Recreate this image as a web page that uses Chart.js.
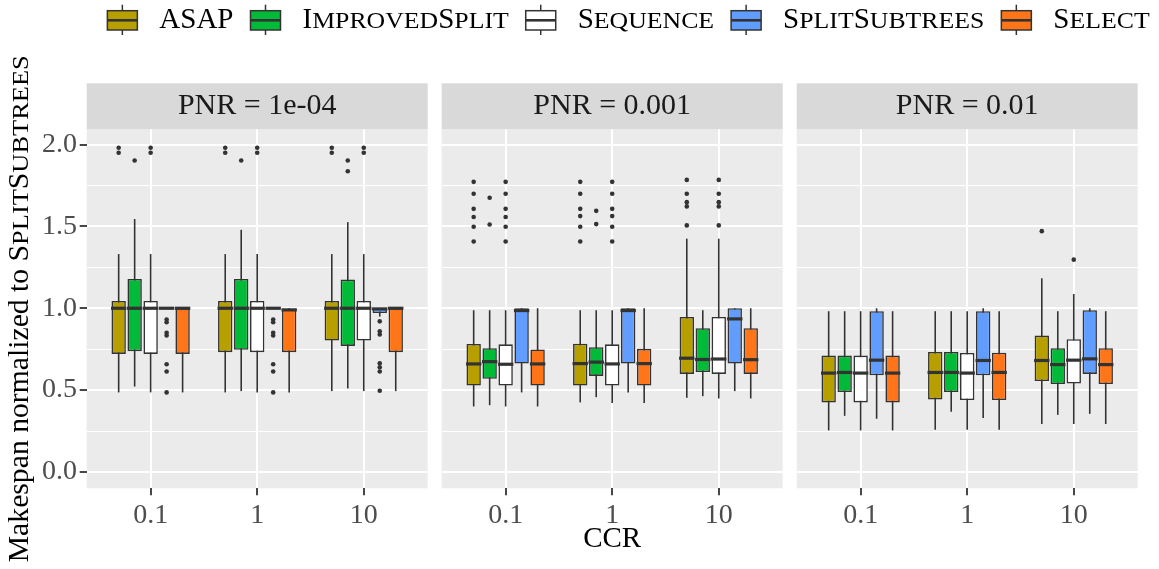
<!DOCTYPE html>
<html>
<head>
<meta charset="utf-8">
<script src="https://cdn.jsdelivr.net/npm/chart.js@4.4.1/dist/chart.umd.min.js"></script>
<style>
  html, body { margin: 0; padding: 0; background: #fff; }
  #wrap { position: relative; width: 1159px; height: 569px; }
  #wrap canvas { position: absolute; left: 0; top: 0; }
</style>
</head>
<body>
<div id="wrap">
  <canvas id="pnr0" width="1159" height="569"></canvas>
  <canvas id="pnr1" width="1159" height="569"></canvas>
  <canvas id="pnr2" width="1159" height="569"></canvas>
</div>
<script>
const ccrLabels = ["0.1", "1", "10"];
const pnrLabels = ["1e-04", "0.001", "0.01"];
const algorithms = ["ASAP", "ImprovedSplit", "Sequence", "SplitSubtrees", "Select"];
const fills = ["#B79F00", "#00BA38", "#FFFFFF", "#619CFF", "#FF7518"];

// box stats per PNR panel, per CCR: [lower whisker, q1, median, q3, upper whisker]
const asapBoxes = [
    [[0.486, 0.721, 1.0, 1.045, 1.331], [0.486, 0.732, 1.0, 1.045, 1.331], [0.494, 0.803, 1.0, 1.045, 1.331]],
    [[0.400, 0.528, 0.660, 0.782, 0.988], [0.425, 0.528, 0.662, 0.784, 0.988], [0.453, 0.599, 0.695, 0.947, 1.425]],
    [[0.254, 0.425, 0.604, 0.711, 0.982], [0.258, 0.443, 0.608, 0.733, 0.982], [0.293, 0.555, 0.681, 0.833, 1.183]]
];
const improvedBoxes = [
    [[0.522, 0.738, 1.0, 1.179, 1.545], [0.494, 0.746, 1.0, 1.179, 1.479], [0.510, 0.770, 1.0, 1.175, 1.526]],
    [[0.408, 0.569, 0.674, 0.756, 0.988], [0.457, 0.587, 0.671, 0.762, 0.988], [0.463, 0.610, 0.687, 0.878, 0.988]],
    [[0.343, 0.488, 0.608, 0.711, 0.982], [0.368, 0.488, 0.608, 0.733, 0.982], [0.349, 0.537, 0.656, 0.756, 0.982]]
];
const sequenceBoxes = [
    [[0.486, 0.721, 1.0, 1.045, 1.331], [0.486, 0.732, 1.0, 1.045, 1.331], [0.494, 0.803, 1.0, 1.045, 1.331]],
    [[0.400, 0.528, 0.658, 0.780, 0.988], [0.421, 0.528, 0.660, 0.780, 0.988], [0.449, 0.599, 0.690, 0.947, 1.425]],
    [[0.254, 0.425, 0.604, 0.711, 0.982], [0.258, 0.439, 0.604, 0.727, 0.982], [0.293, 0.540, 0.683, 0.811, 1.087]]
];
const splitSubtreesBoxes = [
    [[1.0, 1.0, 1.0, 1.0, 1.0], [1.0, 1.0, 1.0, 1.0, 1.0], [0.949, 0.971, 0.996, 1.0, 1.0]],
    [[0.486, 0.662, 0.986, 1.0, 1.0], [0.486, 0.662, 0.986, 1.0, 1.0], [0.494, 0.662, 0.935, 1.0, 1.0]],
    [[0.325, 0.591, 0.683, 0.982, 1.0], [0.329, 0.591, 0.681, 0.982, 1.0], [0.355, 0.599, 0.691, 0.988, 1.0]]
];
const selectBoxes = [
    [[0.486, 0.721, 1.0, 1.0, 1.0], [0.486, 0.732, 0.990, 0.997, 1.0], [0.494, 0.732, 1.0, 1.0, 1.0]],
    [[0.400, 0.528, 0.660, 0.748, 1.0], [0.421, 0.528, 0.662, 0.752, 1.0], [0.449, 0.599, 0.686, 0.878, 1.0]],
    [[0.254, 0.425, 0.604, 0.711, 0.982], [0.258, 0.439, 0.608, 0.729, 0.982], [0.293, 0.537, 0.656, 0.756, 0.982]]
];

// outliers per PNR panel, per CCR
const asapOutliers = [
    [[1.98, 1.95], [1.98, 1.95], [1.98, 1.95]],
    [[1.772, 1.699, 1.607, 1.557, 1.498, 1.408], [1.772, 1.699, 1.607, 1.563, 1.498, 1.408], [1.784, 1.699, 1.648, 1.622, 1.506]],
    [[], [], [1.471]]
];
const improvedOutliers = [
    [[1.902], [1.902], [1.902, 1.837]],
    [[1.675, 1.512], [1.595, 1.514], []],
    [[], [], []]
];
const sequenceOutliers = [
    [[1.98, 1.95], [1.98, 1.95], [1.98, 1.95]],
    [[1.772, 1.699, 1.607, 1.557, 1.498, 1.408], [1.772, 1.699, 1.607, 1.563, 1.498, 1.408], [1.784, 1.699, 1.648, 1.622, 1.506]],
    [[], [], [1.297]]
];
const splitSubtreesOutliers = [
    [[0.931, 0.915, 0.850, 0.834, 0.658, 0.614, 0.486], [0.931, 0.915, 0.850, 0.834, 0.658, 0.614, 0.486], [0.920, 0.860, 0.840, 0.664, 0.640, 0.614, 0.496]],
    [[], [], []],
    [[], [], []]
];
const selectOutliers = [
    [[], [], []],
    [[], [], []],
    [[], [], []]
];

const boxes = [asapBoxes, improvedBoxes, sequenceBoxes, splitSubtreesBoxes, selectBoxes];
const outliers = [asapOutliers, improvedOutliers, sequenceOutliers, splitSubtreesOutliers, selectOutliers];

const SERIF = '"Liberation Serif", "Times New Roman", serif';
const W = 1159, H = 569;
const panelLeft = [86.7, 441.7, 796.7];
const panelWidth = 341;
const panelTop = 129.3, panelBottom = 488.3, stripTop = 83.3;

// small caps: lowercase letters drawn as shrunk, slightly widened capitals
function smallCaps(ctx, text, x, y, size, draw) {
    let cx = x;
    for (const ch of text) {
        const up = ch.toUpperCase();
        if (ch !== up) {
            ctx.font = `${size * 0.78}px ${SERIF}`;
            const w = ctx.measureText(up).width * 1.14;
            if (draw) {
                ctx.save();
                ctx.translate(cx, y);
                ctx.scale(1.14, 1);
                ctx.fillText(up, 0, 0);
                ctx.restore();
            }
            cx += w;
        } else {
            ctx.font = `${size}px ${SERIF}`;
            if (draw) ctx.fillText(ch, cx, y);
            cx += ctx.measureText(ch).width;
        }
    }
    return cx - x;
}

const boxPlot = {
    id: "boxPlot",
    beforeDraw(chart) {
        const {ctx, chartArea} = chart;
        ctx.save();
        ctx.fillStyle = "#EBEBEB";
        ctx.fillRect(chartArea.left, chartArea.top, chartArea.width, chartArea.height);
        ctx.fillStyle = "#D9D9D9";
        ctx.fillRect(chartArea.left, stripTop, chartArea.width, chartArea.top - stripTop);
        ctx.fillStyle = "#1A1A1A";
        ctx.font = `30px ${SERIF}`;
        ctx.textAlign = "center";
        ctx.textBaseline = "alphabetic";
        ctx.fillText("PNR = " + chart.options.plugins.boxPlot.pnr, (chartArea.left + chartArea.right) / 2, 114);
        ctx.restore();
    },
    beforeDatasetsDraw(chart) {
        const {ctx} = chart;
        const y = chart.scales.y;
        ctx.save();
        ctx.strokeStyle = "#333333";
        ctx.lineWidth = 1.6;
        chart.data.datasets.forEach((ds, d) => {
            if (!ds.stats) return;
            chart.getDatasetMeta(d).data.forEach((bar, i) => {
                const s = ds.stats[i];
                ctx.beginPath();
                ctx.moveTo(bar.x, y.getPixelForValue(s[0]));
                ctx.lineTo(bar.x, y.getPixelForValue(s[4]));
                ctx.stroke();
            });
        });
        ctx.restore();
    },
    afterDatasetsDraw(chart) {
        const {ctx} = chart;
        const y = chart.scales.y;
        ctx.save();
        ctx.strokeStyle = "#333333";
        ctx.lineWidth = 3.2;
        chart.data.datasets.forEach((ds, d) => {
            if (!ds.stats) return;
            chart.getDatasetMeta(d).data.forEach((bar, i) => {
                const m = y.getPixelForValue(ds.stats[i][2]);
                ctx.beginPath();
                ctx.moveTo(bar.x - bar.width / 2 - 0.5, m);
                ctx.lineTo(bar.x + bar.width / 2 + 0.5, m);
                ctx.stroke();
            });
        });
        ctx.restore();
    }
};

// legend and y axis title, drawn once on the first panel's canvas
const frame = {
    id: "frame",
    afterDraw(chart) {
        const {ctx} = chart;
        ctx.save();
        ctx.textAlign = "left";
        ctx.textBaseline = "alphabetic";
        ctx.fillStyle = "#000";

        const size = 29, key = 30, gap = 22, after = 17;
        const widths = algorithms.map(a => smallCaps(ctx, a, 0, 0, size, false));
        const total = widths.reduce((s, w) => s + key + gap + w, 0) + after * (algorithms.length - 1);
        let x = 628.5 - total / 2;
        algorithms.forEach((a, i) => {
            ctx.strokeStyle = "#333333";
            ctx.lineWidth = 1.5;
            ctx.beginPath();
            ctx.moveTo(x + key / 2, 4.7);
            ctx.lineTo(x + key / 2, 35);
            ctx.stroke();
            ctx.fillStyle = fills[i];
            ctx.fillRect(x, 10.7, key, 19.3);
            ctx.strokeRect(x, 10.7, key, 19.3);
            ctx.lineWidth = 2.6;
            ctx.beginPath();
            ctx.moveTo(x, 20.3);
            ctx.lineTo(x + key, 20.3);
            ctx.stroke();
            ctx.fillStyle = "#000";
            smallCaps(ctx, a, x + key + gap, 27.5, size, true);
            x += key + gap + widths[i] + after;
        });

        const ts = 29.7;
        ctx.translate(28, (panelTop + panelBottom) / 2);
        ctx.rotate(-Math.PI / 2);
        ctx.font = `${ts}px ${SERIF}`;
        const lead = "Makespan normalized to ";
        const lw = ctx.measureText(lead).width;
        const tw = lw + smallCaps(ctx, "SplitSubtrees", 0, 0, ts, false);
        ctx.font = `${ts}px ${SERIF}`;
        ctx.fillText(lead, -tw / 2, 0);
        smallCaps(ctx, "SplitSubtrees", -tw / 2 + lw, 0, ts, true);
        ctx.restore();
    }
};

function isMajor(v) {
    return Math.abs(v * 2 - Math.round(v * 2)) < 1e-6;
}

function makeChart(p) {
    const datasets = [];
    algorithms.forEach((name, a) => {
        datasets.push({
            type: "bar",
            label: name,
            data: ccrLabels.map((c, i) => ({x: i + 1, y: [boxes[a][p][i][1], boxes[a][p][i][3]]})),
            stats: boxes[a][p],
            backgroundColor: fills[a],
            borderColor: "#333333",
            borderWidth: 1.6,
            borderSkipped: false,
            categoryPercentage: 0.75,
            barPercentage: 0.9
        });
    });
    algorithms.forEach((name, a) => {
        const pts = [];
        outliers[a][p].forEach((vals, i) => {
            for (const v of vals) pts.push({x: i + 1 + (a - 2) * 0.15, y: v});
        });
        datasets.push({
            type: "scatter",
            label: name + " outliers",
            data: pts,
            pointRadius: 2.3,
            pointHoverRadius: 2.3,
            pointBackgroundColor: "#333333",
            pointBorderWidth: 0
        });
    });

    const first = p === 0;
    const yWidth = first ? 80 : 0;
    return new Chart(document.getElementById("pnr" + p), {
        type: "bar",
        data: {datasets},
        options: {
            responsive: false,
            animation: false,
            events: [],
            devicePixelRatio: 1,
            layout: {
                padding: {
                    left: panelLeft[p] - yWidth,
                    right: W - panelLeft[p] - panelWidth,
                    top: panelTop,
                    bottom: 0
                }
            },
            plugins: {
                legend: {display: false},
                tooltip: {enabled: false},
                boxPlot: {pnr: pnrLabels[p]}
            },
            scales: {
                x: {
                    type: "linear",
                    min: 0.4,
                    max: 3.6,
                    offset: false,
                    afterFit: s => { s.height = H - panelBottom; },
                    ticks: {
                        stepSize: 1,
                        includeBounds: false,
                        autoSkip: false,
                        maxRotation: 0,
                        padding: 4,
                        color: "#4D4D4D",
                        font: {family: SERIF, size: 28},
                        callback: v => ccrLabels[v - 1]
                    },
                    grid: {
                        offset: false,
                        color: "#FFFFFF",
                        lineWidth: 2,
                        tickLength: 7,
                        tickColor: "#333333",
                        tickWidth: 1.8
                    },
                    border: {display: false},
                    title: {
                        display: p === 1,
                        text: "CCR",
                        color: "#000",
                        font: {family: SERIF, size: 29},
                        padding: {top: 0, bottom: 12.6}
                    }
                },
                y: {
                    type: "linear",
                    min: -0.0996,
                    max: 2.093,
                    afterFit: s => { s.width = yWidth; },
                    ticks: {
                        display: first,
                        stepSize: 0.25,
                        includeBounds: false,
                        autoSkip: false,
                        padding: 2.7,
                        color: "#4D4D4D",
                        font: {family: SERIF, size: 28},
                        callback: v => isMajor(v) ? v.toFixed(1) : ""
                    },
                    grid: {
                        color: "#FFFFFF",
                        lineWidth: c => isMajor(c.tick.value) ? 2 : 1.1,
                        drawTicks: first,
                        tickLength: 7,
                        tickWidth: 1.8,
                        tickColor: c => isMajor(c.tick.value) ? "#333333" : "rgba(0,0,0,0)"
                    },
                    border: {display: false}
                }
            }
        },
        plugins: first ? [boxPlot, frame] : [boxPlot]
    });
}

for (let p = 0; p < pnrLabels.length; ++p) {
    makeChart(p);
}
</script>
</body>
</html>
